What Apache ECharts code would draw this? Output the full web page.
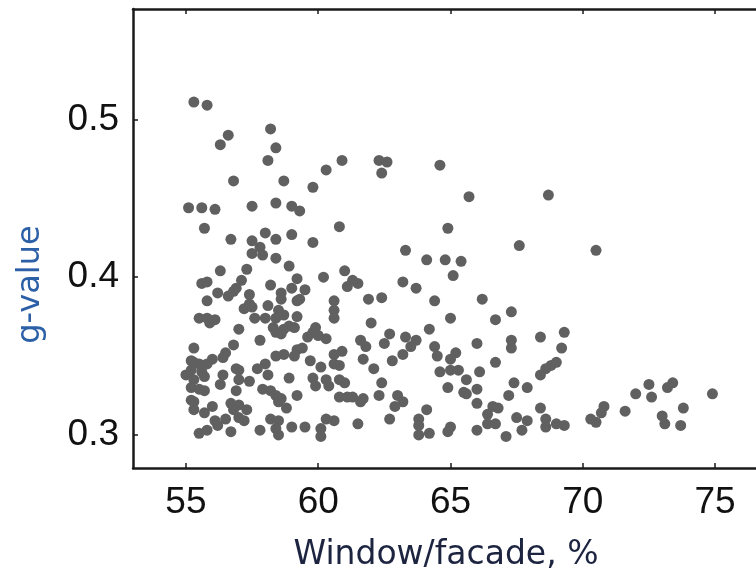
<!DOCTYPE html>
<html>
<head>
<meta charset="utf-8">
<script src="https://cdn.jsdelivr.net/npm/echarts@6/dist/echarts.min.js"></script>
<style>
html,body{margin:0;padding:0;background:#fff;}
#main{width:756px;height:576px;}
</style>
</head>
<body>
<div id="main"></div>
<script>
// window/facade ratio (%) and g-value
var windowFacade=[55.3,55.8,56.6,56.3,58.2,58.4,58.1,60.9,60.3,56.8,58.7,59.8,55.1,55.6,56.1,57.5,58.4,59.0,59.3,55.7,
  60.8,56.7,57.5,58.0,58.4,59.0,59.8,57.8,57.5,57.9,58.4,58.9,56.3,57.3,61.0,55.6,55.8,57.1,58.2,59.2,
  60.2,56.2,56.6,56.8,56.9,57.4,58.6,58.6,59.0,59.5,61.1,55.8,57.4,59.2,59.3,60.6,58.1,57.2,57.5,58.5,
  60.6,55.5,55.8,56.1,55.9,57.6,58.0,58.4,58.7,59.2,60.6,58.3,58.4,58.7,58.9,59.1,57.0,59.9,59.8,59.6,
  60.0,60.3,58.6,57.8,56.8,55.3,56.5,56.4,59.2,59.4,59.1,58.4,58.7,60.6,60.9,55.2,55.3,55.5,56.0,55.8,
  59.7,60.1,60.6,60.8,58.0,57.7,58.1,56.9,57.0,56.4,55.0,55.2,55.6,55.7,55.3,58.9,59.8,59.9,60.3,60.4,
  60.8,61.0,57.0,57.4,56.3,55.2,55.5,55.7,57.9,58.2,58.4,58.6,56.9,59.2,55.2,55.3,60.8,61.1,56.7,57.0,
  58.5,55.3,55.7,56.0,56.8,57.3,58.8,57.0,57.2,56.1,56.5,58.2,58.5,60.3,60.6,55.5,55.8,56.2,56.7,57.8,
  58.4,58.5,59.0,59.5,60.1,60.1,62.3,62.6,62.4,64.6,65.7,68.7,64.9,63.3,64.1,64.8,65.4,67.6,61.3,61.5,
  65.1,63.2,63.7,61.9,62.4,64.4,66.2,67.3,65.0,66.7,62.0,64.2,61.6,61.8,62.5,62.7,63.3,63.7,63.5,63.2,
  66.0,67.3,67.3,68.4,64.4,64.5,65.2,65.0,61.7,62.8,62.1,64.6,65.0,65.3,66.7,66.1,68.4,68.6,68.8,69.0,
  69.3,69.2,62.4,65.6,67.4,67.9,64.9,65.5,65.6,66.0,67.2,61.3,61.6,61.7,62.3,63.0,63.2,62.9,66.0,66.6,
  66.8,66.4,68.4,64.1,62.7,63.8,63.8,61.5,65.0,64.9,66.7,67.5,67.9,66.4,68.6,68.6,63.8,64.2,66.0,67.1,
  67.7,70.5,69.0,69.3,70.3,70.5,70.8,70.7,71.6,72.0,72.5,72.6,73.2,73.4,73.0,73.1,73.8,73.7,74.9];
var gValue=[0.511,0.509,0.490,0.484,0.494,0.482,0.474,0.474,0.468,0.461,0.461,0.457,0.444,0.444,0.443,0.445,0.447,0.445,0.442,0.431,
  0.432,0.424,0.423,0.428,0.424,0.427,0.422,0.419,0.415,0.414,0.412,0.407,0.404,0.405,0.404,0.396,0.397,0.398,0.395,0.399,
  0.400,0.390,0.388,0.391,0.393,0.389,0.390,0.386,0.393,0.392,0.394,0.385,0.383,0.385,0.386,0.385,0.382,0.380,0.381,0.379,
  0.379,0.374,0.374,0.373,0.371,0.374,0.374,0.374,0.376,0.375,0.374,0.368,0.365,0.367,0.369,0.368,0.367,0.368,0.365,0.362,
  0.363,0.361,0.364,0.360,0.357,0.355,0.352,0.349,0.354,0.355,0.350,0.350,0.351,0.351,0.353,0.347,0.346,0.345,0.348,0.345,
  0.347,0.343,0.345,0.344,0.345,0.342,0.338,0.342,0.341,0.338,0.338,0.341,0.340,0.337,0.335,0.336,0.336,0.331,0.335,0.331,
  0.335,0.333,0.335,0.334,0.332,0.330,0.329,0.328,0.329,0.328,0.325,0.323,0.328,0.325,0.322,0.321,0.324,0.324,0.320,0.319,
  0.321,0.316,0.314,0.318,0.316,0.316,0.317,0.311,0.309,0.309,0.310,0.310,0.309,0.310,0.309,0.301,0.303,0.306,0.302,0.303,
  0.304,0.300,0.305,0.305,0.304,0.299,0.474,0.473,0.466,0.471,0.451,0.452,0.431,0.417,0.411,0.411,0.410,0.420,0.398,0.396,
  0.401,0.397,0.393,0.386,0.387,0.385,0.386,0.378,0.374,0.373,0.371,0.367,0.360,0.356,0.358,0.364,0.362,0.360,0.356,0.351,
  0.358,0.360,0.355,0.362,0.356,0.350,0.352,0.348,0.348,0.347,0.342,0.340,0.341,0.341,0.346,0.340,0.338,0.342,0.344,0.346,
  0.365,0.355,0.333,0.335,0.333,0.330,0.330,0.327,0.326,0.329,0.325,0.324,0.321,0.323,0.325,0.325,0.321,0.318,0.320,0.318,
  0.317,0.313,0.317,0.316,0.310,0.310,0.306,0.307,0.305,0.302,0.307,0.311,0.309,0.307,0.310,0.305,0.300,0.301,0.303,0.299,
  0.303,0.417,0.307,0.306,0.310,0.308,0.318,0.314,0.315,0.326,0.332,0.324,0.330,0.333,0.312,0.307,0.317,0.306,0.326];
var xTicks=[55,60,65,70,75];
var yTicks=[0.3,0.4,0.5];

var points=[];
for(var i=0;i<windowFacade.length;i++){
  points.push([windowFacade[i],gValue[i]]);
}

var myChart=echarts.init(document.getElementById('main'));
var lineStyle={color:'#1a1a1a',width:2.5};
var tickStyle={color:'#1a1a1a',width:1.5};
var labelFont={fontFamily:'Liberation Sans',fontSize:37,color:'#111'};

option={
  animation:false,
  backgroundColor:'#fff',
  grid:{left:133,top:9,width:635,height:459,outerBoundsMode:'none'},
  xAxis:[{
    type:'value',min:53,max:77,position:'bottom',
    name:'Window/facade, %',nameLocation:'middle',nameGap:71,
    nameTextStyle:{fontFamily:'DejaVu Sans',fontSize:33,color:'#1c2440',padding:[0,9,0,0]},
    axisLine:{show:true,onZero:false,lineStyle:lineStyle},
    axisTick:{show:true,inside:true,length:5,customValues:xTicks,lineStyle:tickStyle},
    axisLabel:Object.assign({margin:16,customValues:xTicks},labelFont),
    splitLine:{show:false}
  },{
    type:'value',min:53,max:77,position:'top',
    axisLine:{show:true,onZero:false,lineStyle:lineStyle},
    axisTick:{show:true,inside:true,length:5,customValues:xTicks,lineStyle:tickStyle},
    axisLabel:{show:false},
    splitLine:{show:false}
  }],
  yAxis:{
    type:'value',min:0.279,max:0.57,position:'left',
    name:'g-value',nameLocation:'middle',nameGap:86,
    nameTextStyle:{fontFamily:'DejaVu Sans',fontSize:32,color:'#2b5fa6',padding:[0,92,0,0]},
    axisLine:{show:true,onZero:false,lineStyle:lineStyle},
    axisTick:{show:true,inside:true,length:5,customValues:yTicks,lineStyle:tickStyle},
    axisLabel:Object.assign({margin:14,customValues:yTicks,formatter:function(v){return v.toFixed(1);}},labelFont),
    splitLine:{show:false}
  },
  series:[{
    type:'scatter',
    data:points,
    symbol:'circle',
    symbolSize:11,
    itemStyle:{color:'#606060',opacity:1}
  }]
};
myChart.setOption(option);
</script>
</body>
</html>
